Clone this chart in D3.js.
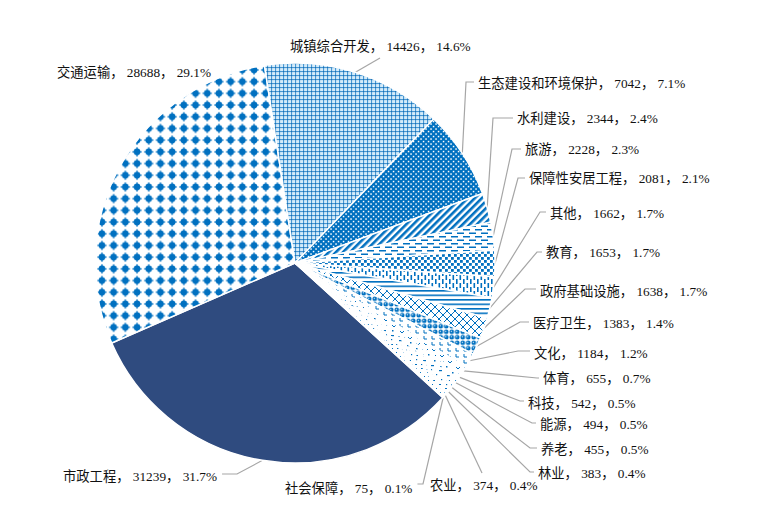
<!DOCTYPE html>
<html>
<head>
<meta charset="utf-8">
<script src="https://cdn.jsdelivr.net/npm/d3@7"></script>
<style>
  body { margin: 0; background: #fff; }
  svg { display: block; }
  .lbl { font-family: "Liberation Serif", "Noto Sans CJK SC", serif; font-size: 13.3px; fill: #111; }
</style>
</head>
<body>
<script>
// data, in the order the slices go round (clockwise)
const names = ["市政工程", "交通运输", "城镇综合开发", "生态建设和环境保护", "水利建设", "旅游",
  "保障性安居工程", "其他", "教育", "政府基础设施", "医疗卫生", "文化", "体育", "科技",
  "能源", "养老", "林业", "农业", "社会保障"];
const values = [31239, 28688, 14426, 7042, 2344, 2228, 2081, 1662, 1653, 1638, 1383, 1184,
  655, 542, 494, 455, 383, 374, 75];

// label layout: text left / middle, and where the leader line bends (null = no leader)
const labelX = [63, 57, 290, 478, 517, 525, 529, 550, 546, 540, 533, 534, 543, 528, 540, 541, 538, 430, 285];
const labelY = [476, 72, 46, 83, 118, 149, 178, 213, 252, 291, 323, 353, 378, 403, 424, 449, 473, 485, 488];
const leadX = [237, null, 380, 466, 493, 512, 518, 540, 537, 525, 520, 518, 537, 520, 532, 530, 530, 482, 423];
const leadY = [474, null, 58, 82, 118, 149, 178, 212, 252, 289, 322, 351, 378, 401, 423, 448, 472, 473, 484];

const width = 758, height = 506;
const cx = 295, cy = 263, radius = 200;
const firstAngle = 132.3 * Math.PI / 180;
const blue = "#0070c0", navy = "#2f4b7f";

const svg = d3.select("body").append("svg")
  .attr("width", width)
  .attr("height", height);

const defs = svg.append("defs");

// one fill pattern per slice, drawn in a tile
function tile(id, w, h, draw, transform) {
  const p = defs.append("pattern")
    .attr("id", id)
    .attr("patternUnits", "userSpaceOnUse")
    .attr("width", w)
    .attr("height", h);
  if (transform) p.attr("patternTransform", transform);
  p.append("rect").attr("width", w).attr("height", h).attr("fill", "#fff");
  draw(p);
  return "url(#" + id + ")";
}
function sq(p, x, y, w, h, fill) {
  p.append("rect").attr("x", x).attr("y", y).attr("width", w).attr("height", h).attr("fill", fill || blue);
}
function ln(p, d, sw) {
  p.append("path").attr("d", d).attr("fill", "none").attr("stroke", blue).attr("stroke-width", sw || 1);
}

const fills = [
  navy,
  tile("p1", 11.7, 11.7, p => {
    p.append("circle").attr("cx", 5.85).attr("cy", 5.85).attr("r", 3.3).attr("fill", blue);
    sq(p, 1.3, 5.2, 9.1, 1.3);
    sq(p, 5.2, 1.3, 1.3, 9.1);
  }),
  tile("p2", 4, 4, p => {
    sq(p, 0, 0, 4, 4, "#d6ecf9");
    sq(p, 0, 0, 4, 1.1, "#4797d4");
    sq(p, 0, 0, 1.1, 4, "#4797d4");
    sq(p, 0, 0, 1.1, 1.1, "#1f6fae");
  }),
  tile("p3", 5, 5, p => {
    sq(p, 0, 0, 5, 5);
    sq(p, 0.3, 0.3, 1.5, 1.5, "#fff");
    sq(p, 2.8, 2.8, 1.5, 1.5, "#fff");
  }),
  tile("p4", 5, 5, p => sq(p, 0, 0, 2.6, 5), "rotate(45)"),
  tile("p5", 12, 7, p => {
    sq(p, 0, 1, 7, 1.5);
    sq(p, 6, 4.5, 6, 1.5);
    sq(p, 0, 4.5, 1, 1.5);
  }),
  tile("p6", 6, 6, p => {
    sq(p, 0, 0, 2.8, 2.8);
    sq(p, 3, 3, 2.8, 2.8);
  }),
  tile("p7", 7, 8, p => {
    sq(p, 0, 0, 1.6, 5);
    sq(p, 3.5, 4, 1.6, 4);
    sq(p, 3.5, 0, 1.6, 1);
  }),
  tile("p8", 4, 4.5, p => sq(p, 0, 0, 4, 1.6)),
  tile("p9", 8, 8, p => ln(p, "M0,0L8,8M8,0L0,8", 1)),
  tile("p10", 5.5, 5.5, p => {
    p.append("circle").attr("cx", 2.75).attr("cy", 2.75).attr("r", 2.3).attr("fill", blue);
    p.append("circle").attr("cx", 2.3).attr("cy", 2.3).attr("r", 0.6).attr("fill", "#fff");
  }),
  tile("p11", 8, 6, p => ln(p, "M1,1v3h3", 1)),
  tile("p12", 8, 6, p => ln(p, "M1,2l2,2l2,-2", 1)),
  tile("p13", 6, 6, p => sq(p, 1, 1, 1.5, 1.5)),
  tile("p14", 8, 5, p => sq(p, 0, 2, 3, 1.2)),
  tile("p15", 5, 5, p => sq(p, 1, 1, 1.2, 1.2)),
  tile("p16", 6, 4, p => sq(p, 0, 1, 2, 1)),
  tile("p17", 4, 4, p => sq(p, 1, 1, 1, 1)),
  tile("p18", 3, 3, p => sq(p, 1, 1, 1, 1))
];

const total = d3.sum(values);
const pct = d3.format(".1%");

const pie = d3.pie()
  .sort(null)
  .value(d => d)
  .startAngle(firstAngle)
  .endAngle(firstAngle + 2 * Math.PI);

const arc = d3.arc()
  .innerRadius(0)
  .outerRadius(radius);

const arcs = pie(values);

const g = svg.append("g")
  .attr("transform", `translate(${cx},${cy})`);

g.selectAll("path")
  .data(arcs)
  .join("path")
  .attr("d", arc)
  .attr("fill", (d, i) => fills[i])
  .attr("stroke", "#fff")
  .attr("stroke-width", 1.5)
  .attr("stroke-linejoin", "round");

// labels
const labels = svg.append("g")
  .selectAll("text")
  .data(arcs)
  .join("text")
  .attr("class", "lbl")
  .attr("x", (d, i) => labelX[i])
  .attr("y", (d, i) => labelY[i])
  .attr("dominant-baseline", "central")
  .attr("xml:space", "preserve")
  .text((d, i) => `${names[i]}， ${values[i]}， ${pct(values[i] / total)}`);

// leader lines: slice edge -> bend -> short stub to the text
const lead = svg.insert("g", "g")
  .attr("fill", "none")
  .attr("stroke", "#a6a6a6")
  .attr("stroke-width", 1.2);

labels.each(function (d, i) {
  if (leadX[i] == null) return;
  const a = (d.startAngle + d.endAngle) / 2;
  const sx = cx + radius * Math.sin(a), sy = cy - radius * Math.cos(a);
  const left = labelX[i], right = left + this.getComputedTextLength();
  let pts = [[sx, sy], [leadX[i], leadY[i]]];
  if (leadX[i] < left) pts.push([left - 4, leadY[i]]);
  else if (leadX[i] > right) pts.push([right + 5, leadY[i]]);
  lead.append("path").attr("d", d3.line()(pts));
});
</script>
</body>
</html>
